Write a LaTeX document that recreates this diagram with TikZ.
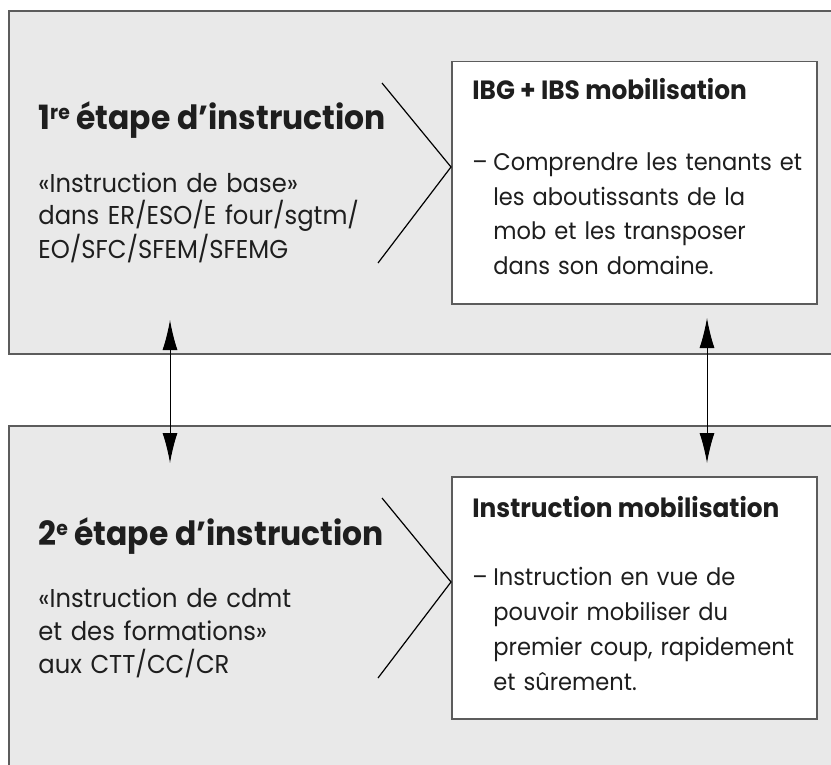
\documentclass[tikz,border=0pt]{standalone}
\usepackage{fontspec}
\setmainfont{Poppins}[FakeStretch=0.94]
\usetikzlibrary{positioning,arrows.meta}

\definecolor{panelgray}{HTML}{E9E9E9}
\definecolor{framegray}{HTML}{5C5C5C}
\definecolor{inkgray}{HTML}{1E1E1E}

\begin{document}
\begin{tikzpicture}[x=0.5pt,y=-0.5pt,
    panel/.style={draw=framegray, line width=0.75pt, fill=panelgray},
    whitebox/.style={draw=framegray, line width=0.75pt, fill=white, inner sep=0pt,
      anchor=north west, minimum width=182.5pt, minimum height=121pt},
    chevron/.style={draw=black, line width=0.6pt},
    link/.style={draw=black, line width=0.5pt, {Latex[length=15pt,width=7.5pt]}-{Latex[length=15pt,width=7.5pt]}},
    stagetitle/.style={anchor=base west, inner sep=0pt, text=inkgray,
      font=\bfseries\fontsize{16.7}{20}\selectfont},
    stagebody/.style={anchor=base west, inner sep=0pt, text=inkgray, text width=180pt,
      align=left, font=\fontsize{12.9}{16.5}\selectfont},
    boxtitle/.style={anchor=base west, inner sep=0pt, text=inkgray,
      font=\bfseries\fontsize{13.2}{14}\selectfont},
    boxbody/.style={anchor=base west, inner sep=0pt, text=inkgray, text width=165pt,
      align=left, font=\fontsize{12}{17.5}\selectfont}]
  \useasboundingbox (0,0) rectangle (831,765);
  \clip (0,0) rectangle (831,765);
  \fill[white] (0,0) rectangle (831,765);

  % the two stages
  \draw[panel] (9,11) rectangle (845,354);
  \draw[panel] (9,426) rectangle (845,780);

  \node[stagetitle] (t1) at (38,130) {1{\fontsize{10}{10}\selectfont\raisebox{5pt}{re}} étape d’instruction};
  \node[stagebody] (b1) at (38,192) {«Instruction de base»\\dans ER/ESO/E four/sgtm/\\EO/SFC/SFEM/SFEMG};

  \node[stagetitle] (t2) at (38,545) {2{\fontsize{10}{10}\selectfont\raisebox{5pt}{e}} étape d’instruction};
  \node[stagebody] (b2) at (38,607) {«Instruction de cdmt\\et des formations»\\aux CTT/CC/CR};

  % white boxes
  \node[whitebox] (mob1) at (451,61) {};
  \node[boxtitle] (h1) at (472,100) {IBG + IBS mobilisation};
  \node[boxbody] (d1) at (472,170) {–};
  \node[boxbody] (c1) at (493,170) {Comprendre les tenants et\\les aboutissants de la\\mob et les transposer\\dans son domaine.};

  \node[whitebox] (mob2) at (451,476) {};
  \node[boxtitle] (h2) at (472,517) {Instruction mobilisation};
  \node[boxbody] (d2) at (472,585) {–};
  \node[boxbody] (c2) at (493,585) {Instruction en vue de\\pouvoir mobiliser du\\premier coup, rapidement\\et sûrement.};

  % chevrons
  \draw[chevron] (382,83) -- (451,167) -- (378,263);
  \draw[chevron] (382,498) -- (451,582) -- (378,678);

  % links
  \coordinate (up1) at (170,320);
  \coordinate (dn1) at (170,463);
  \coordinate (up2) at (707,318);
  \coordinate (dn2) at (707,463);
  \draw[link] (up1) -- (dn1);
  \draw[link] (up2) -- (dn2);
\end{tikzpicture}
\end{document}
